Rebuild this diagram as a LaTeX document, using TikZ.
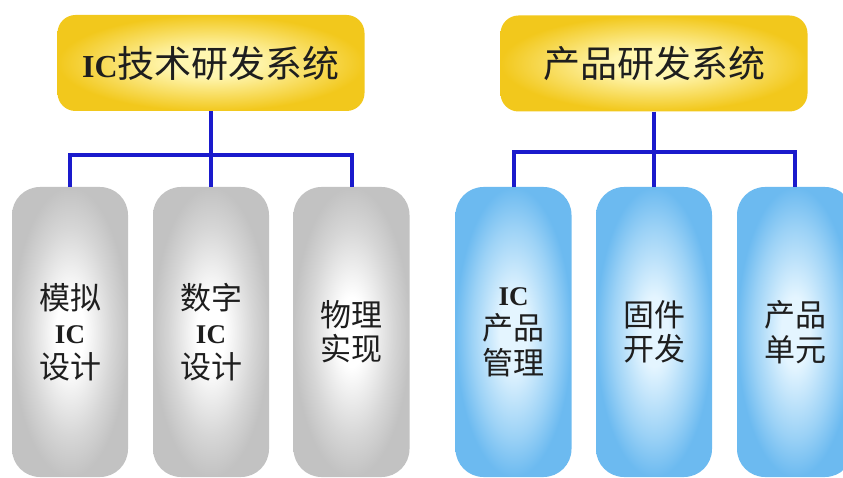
\documentclass[tikz,border=0pt]{standalone}
\usepackage{fontspec}
\newfontfamily\cjk{Noto Sans CJK SC}
\newfontfamily\icfont{Liberation Serif}
\definecolor{graye}{HTML}{C2C2C2}
\definecolor{graym}{HTML}{D6D6D6}
\definecolor{bluee}{HTML}{6CBAF0}
\definecolor{bluem}{HTML}{9CD2F6}
\definecolor{bluec}{HTML}{E4F5FF}
\definecolor{yele}{HTML}{F2C81C}
\definecolor{yelc}{HTML}{FFF6B0}
\definecolor{connc}{HTML}{1A1ACC}
\definecolor{txt}{HTML}{1E1E1E}
\pgfdeclareradialshading{grayshade}{\pgfpoint{0bp}{0bp}}{color(0bp)=(white); color(6bp)=(white); color(18bp)=(graym); color(25bp)=(graye); color(50bp)=(graye)}
\pgfdeclareradialshading{blueshade}{\pgfpoint{0bp}{0bp}}{color(0bp)=(bluec); color(6bp)=(bluec); color(18bp)=(bluem); color(25bp)=(bluee); color(50bp)=(bluee)}
\pgfdeclareradialshading{yelshade}{\pgfpoint{0bp}{0bp}}{color(0bp)=(yelc); color(7bp)=(yelc); color(25bp)=(yele); color(50bp)=(yele)}
\tikzset{
  pill/.style={rectangle, rounded corners=28pt, minimum width=116pt, minimum height=290pt,
    inner sep=0pt, align=center, text=txt, font=\cjk\fontsize{31}{34.5}\selectfont},
  graypill/.style={pill, shade, shading=grayshade},
  bluepill/.style={pill, shade, shading=blueshade},
  topbox/.style={rectangle, rounded corners=18pt, minimum width=307pt, minimum height=96pt,
    inner sep=0pt, shade, shading=yelshade, text=txt, font=\cjk\fontsize{37}{40}\selectfont},
  conn/.style={draw=connc, line width=4pt}
}
\newcommand{\ICt}{{\icfont\bfseries\fontsize{32}{40}\selectfont IC}}
\newcommand{\ICp}{{\icfont\bfseries\fontsize{27}{34.5}\selectfont IC}}
\begin{document}
\begin{tikzpicture}[x=1pt,y=1pt]
\useasboundingbox (0,0) rectangle (843,-478);
\fill[white] (0,0) rectangle (843,-478);
% top boxes
\node[topbox] (top1) at (211,-63) {\ICt 技术研发系统};
\node[topbox] (top2) at (654,-63.5) {产品研发系统};
% pills
\node[graypill] (p1) at (70,-332) {模拟\\\ICp\\设计};
\node[graypill] (p2) at (211,-332) {数字\\\ICp\\设计};
\node[graypill] (p3) at (351.5,-332) {物理\\实现};
\node[bluepill] (p4) at (513.5,-332) {\ICp\\产品\\管理};
\node[bluepill] (p5) at (654,-332) {固件\\开发};
\node[bluepill] (p6) at (795,-332) {产品\\单元};
% connectors
\coordinate (j1) at (211,-155);
\coordinate (j2) at (654,-152);
\draw[conn] (top1.south) -- (p2.north);
\draw[conn] (p1.north) |- (j1) -| (p3.north);
\draw[conn] (top2.south) -- (p5.north);
\draw[conn] (p4.north) |- (j2) -| (p6.north);
\end{tikzpicture}
\end{document}
